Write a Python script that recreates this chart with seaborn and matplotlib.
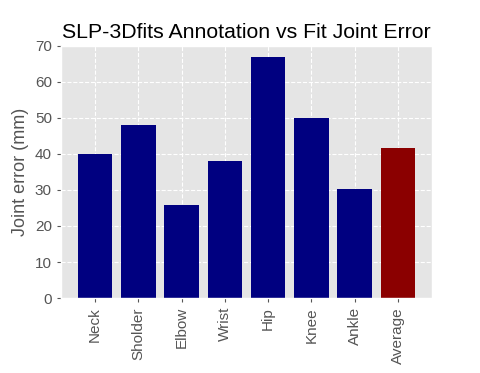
import matplotlib
matplotlib.use("Agg")
import matplotlib.pyplot as plt
import seaborn as sns

joints = ["Neck", "Sholder", "Elbow", "Wrist", "Hip", "Knee", "Ankle", "Average"]
errors = [40.1, 47.9, 25.7, 38.0, 67.0, 50.1, 30.3, 41.7]
colors = ["navy"] * 7 + ["darkred"]

plt.style.use("ggplot")
plt.rcParams["font.family"] = ["Liberation Sans", "DejaVu Sans"]

fig, ax = plt.subplots(figsize=(4.8, 3.73), dpi=100)
fig.subplots_adjust(left=0.127, right=0.9, top=0.877, bottom=0.201)

sns.barplot(x=joints, y=errors, hue=joints, palette=colors, legend=False,
            width=0.8, saturation=1, ax=ax)
# seaborn switches off the x grid for categorical axes, put it back
ax.grid(True, axis="both", linestyle="--", color="white")
ax.set_axisbelow(True)
ax.set_xlim(-0.79, 7.79)
ax.set_ylim(0, 70)
ax.set_ylabel("Joint error (mm)", fontsize=13)
ax.set_title("SLP-3Dfits Annotation vs Fit Joint Error", fontsize=15.3, color="black")
ax.tick_params(axis="x", rotation=90, labelsize=11, length=3)
ax.tick_params(axis="y", labelsize=11, length=3)

plt.savefig("out.png", dpi=100)
